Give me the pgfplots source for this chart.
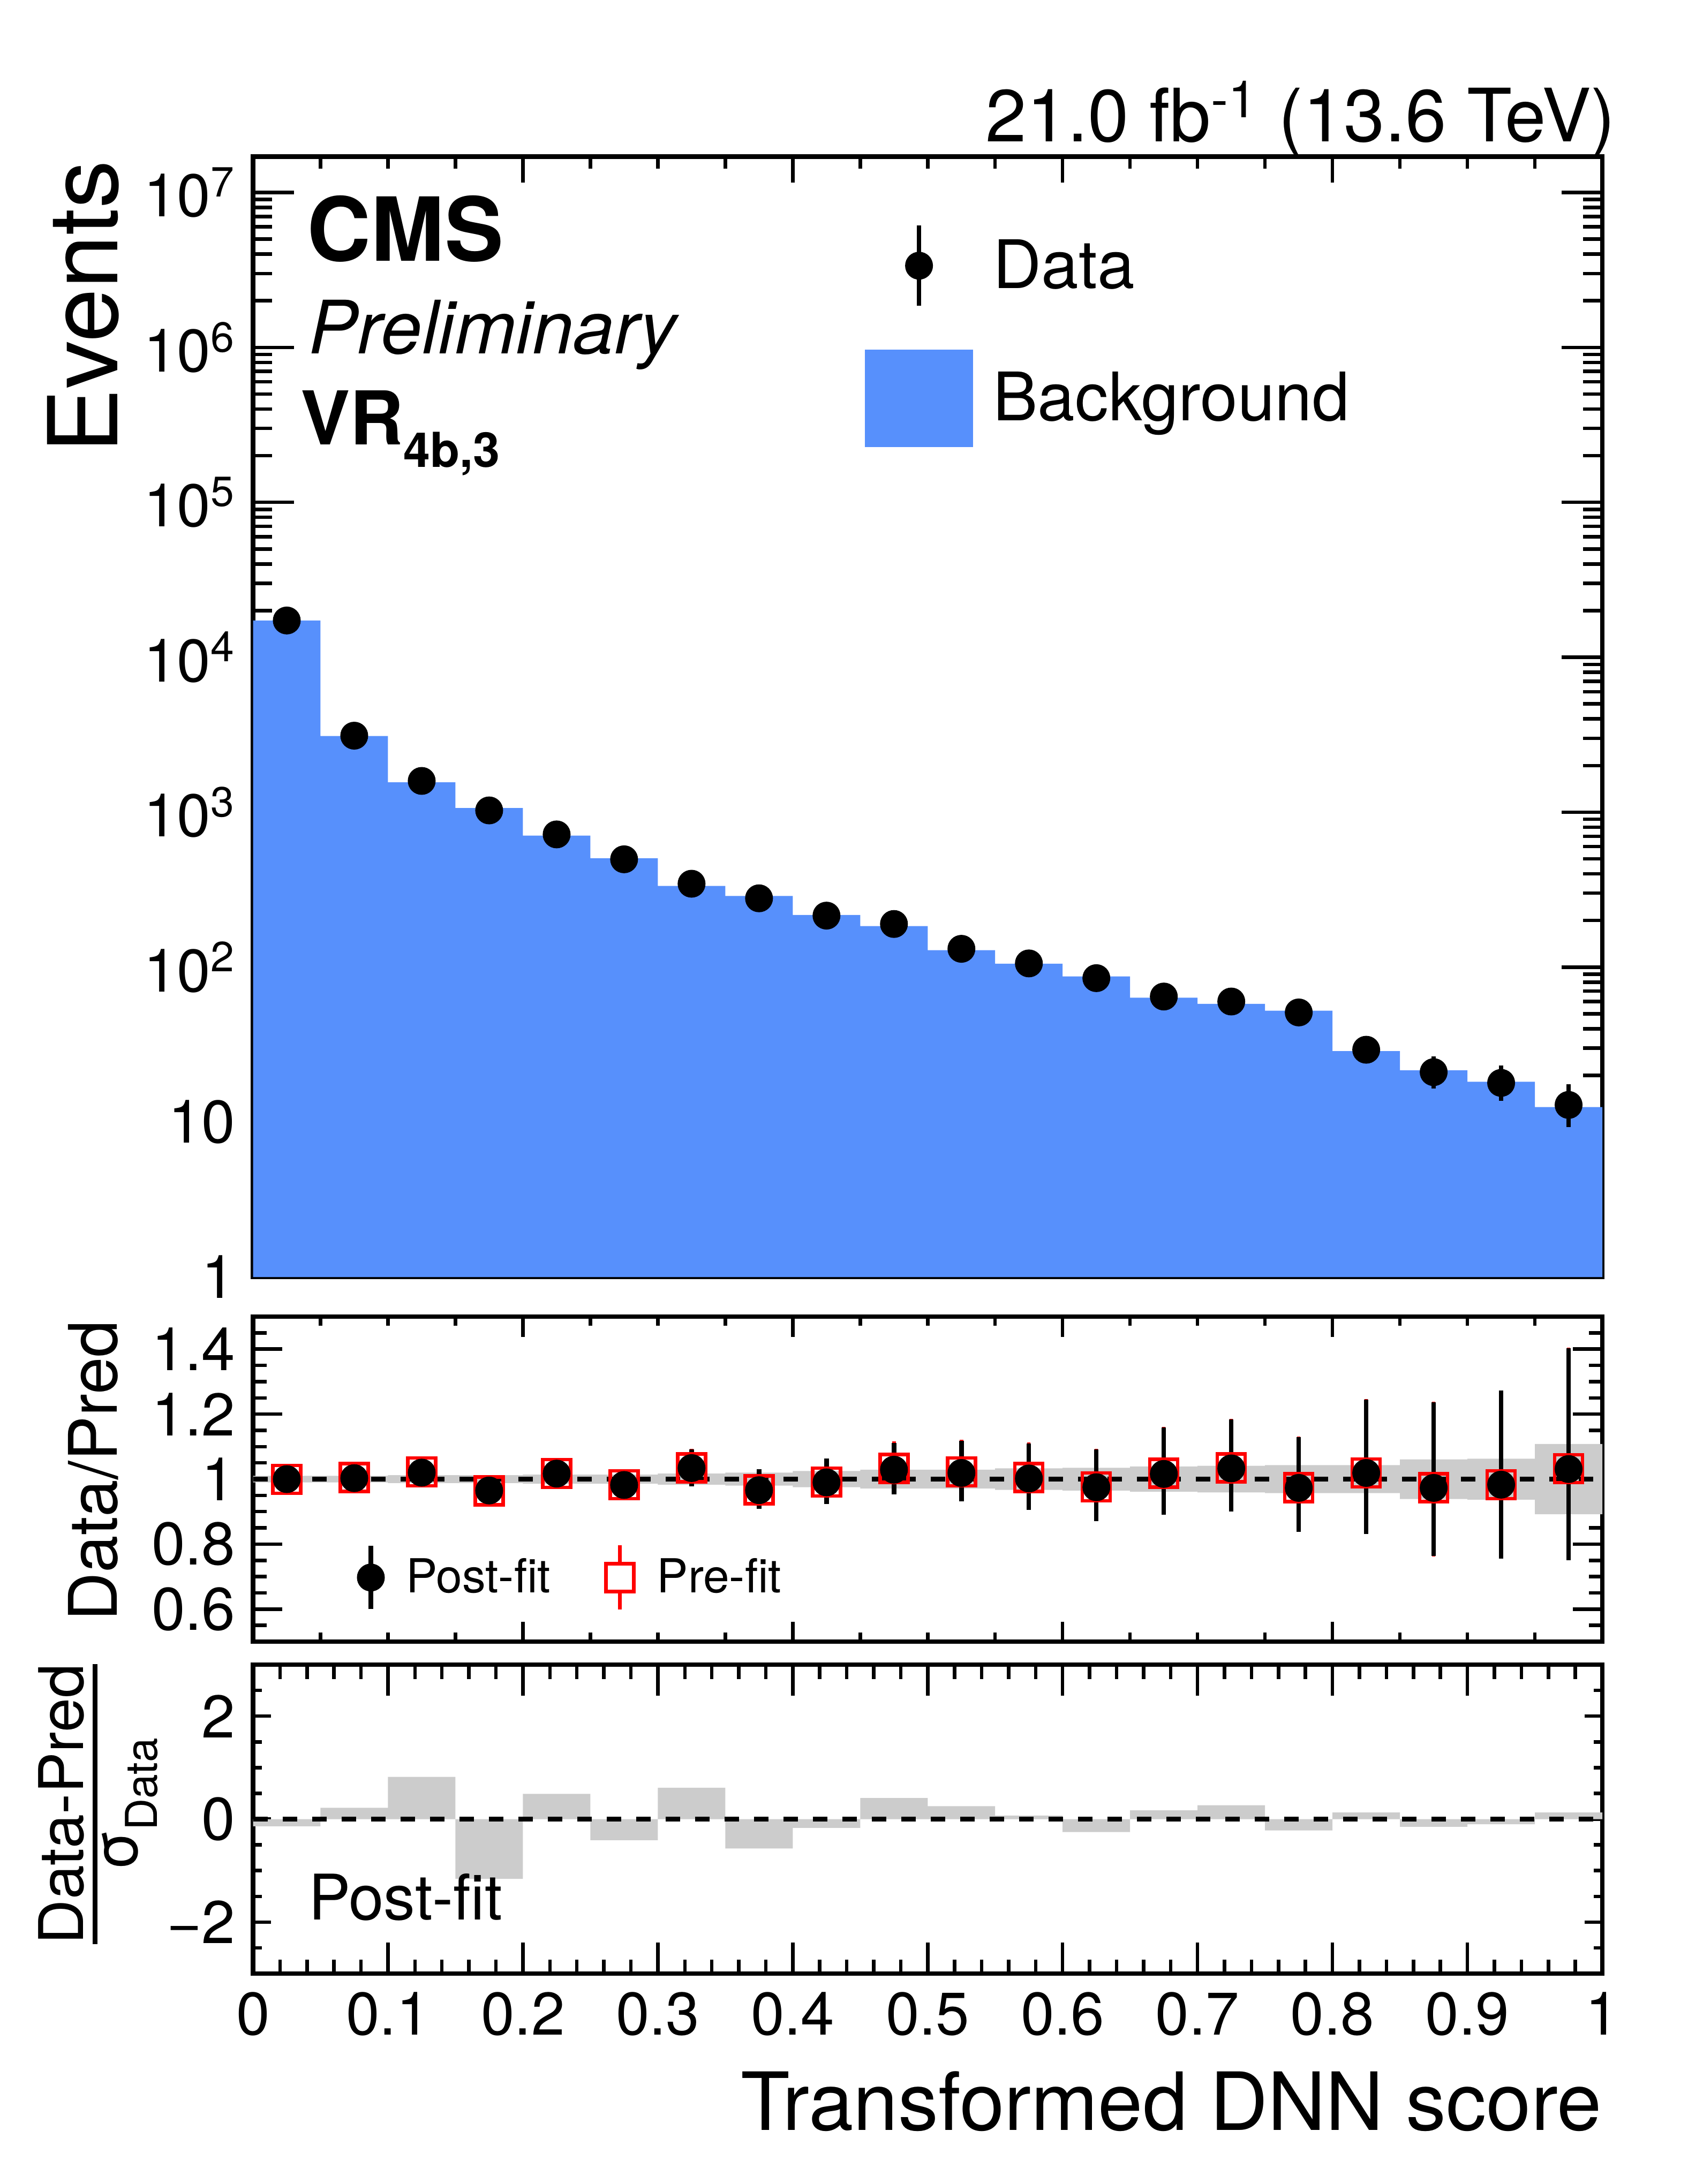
\documentclass[border=0pt]{standalone}
\usepackage{fontspec}
\setmainfont{TeX Gyre Heros}
\usepackage{amsmath}
\usepackage{pgfplots}
\pgfplotsset{compat=1.18}
\definecolor{cmsblue}{HTML}{5790FC}
\definecolor{bandgray}{HTML}{CCCCCC}
\newcommand{\fs}[2]{\fontsize{#1}{#2}\selectfont}
\newcommand\pullfrac{\vbox{\offinterlineskip\halign{\hfil##\hfil\cr
\fs{23}{28}Data-Pred\cr
\noalign{\kern3.15pt\hrule height1.7pt\kern1.75pt}
\fs{23}{28}σ\raisebox{-7.4pt}{\fs{16.4}{20}Data}\cr}}}
\pgfplotsset{
  cmsax/.style={
    scale only axis, width=503.9pt, xmin=0, xmax=1,
    anchor=north west,
    axis line style={line width=1.7pt},
    tick style={line width=1.3pt, black},
    tick align=inside,
    /pgf/number format/assume math mode=true,
    ticklabel style={font=\fs{22.5}{27}},
    yticklabel style={inner sep=0pt, xshift=-6.4pt},
    xticklabel style={inner sep=0pt, yshift=-6.8pt},
  }
}
\begin{document}
\begin{tikzpicture}
\useasboundingbox (0,0) rectangle (630.2pt,-815.8pt);
% ---------------- main panel ----------------
\begin{axis}[cmsax, ymode=log, at={(94.5pt,-58.5pt)}, height=418.5pt,
  ymin=1, ymax=1.704e7,
  xtick={0,0.2,0.4,0.6,0.8,1}, minor x tick num=3, xticklabels={},
  xtick style={/pgfplots/major tick length=9.8pt, /pgfplots/minor tick length=4.6pt},
  ytick style={/pgfplots/major tick length=15.3pt, /pgfplots/minor tick length=7.2pt},
  ytick={1,10,100,1000,10000,100000,1000000,10000000},
  yticklabels={1,10,10\textsuperscript{2},10\textsuperscript{3},10\textsuperscript{4},10\textsuperscript{5},10\textsuperscript{6},10\textsuperscript{7}},
  minor ytick={2,3,4,5,6,7,8,9,20,30,40,50,60,70,80,90,200,300,400,500,600,700,800,900,2000,3000,4000,5000,6000,7000,8000,9000,2e4,3e4,4e4,5e4,6e4,7e4,8e4,9e4,2e5,3e5,4e5,5e5,6e5,7e5,8e5,9e5,2e6,3e6,4e6,5e6,6e6,7e6,8e6,9e6},
  ylabel={Events},
  ylabel style={at={(axis description cs:-0.1004,0.997)}, anchor=base east, font=\fs{36}{43}, inner sep=0pt},
  legend cell align=left,
  legend style={at={(axis description cs:0.4535,0.9405)}, anchor=north west, draw=none, fill=none,
    inner sep=0pt, outer sep=0pt, font=\fs{25}{30}, row sep=15.5pt,
    nodes={inner sep=0pt},
    /tikz/every odd column/.append style={column sep=7.5pt}},
]
\addplot[forget plot, const plot mark left, fill=cmsblue, draw=none] coordinates {
 (0,1) (0,17290) (0.05,3106) (0.10,1559) (0.15,1064) (0.20,707) (0.25,505) (0.30,334)
 (0.35,288) (0.40,217) (0.45,184) (0.50,128.7) (0.55,105.3) (0.60,87.1) (0.65,63.5)
 (0.70,58) (0.75,52.4) (0.80,28.7) (0.85,21.6) (0.90,18.2) (0.95,12.5) (1,12.5) (1,1)};
\addplot[forget plot, black, only marks, mark=*, mark size=5pt, mark options={fill=black},
  error bars/.cd, y dir=both, y explicit, error mark=none, error bar style={line width=1.7pt}]
 coordinates {
 (0.025,17272) +- (0,131)
 (0.075,3118) +- (0,56)
 (0.125,1592) +- (0,40)
 (0.175,1027) +- (0,32)
 (0.225,719) +- (0,27)
 (0.275,496.6) +- (0,22.3)
 (0.325,345.4) +- (0,18.6)
 (0.375,278.1) +- (0,16.7)
 (0.425,215) +- (0,14.7)
 (0.475,189.9) +- (0,13.8)
 (0.525,131.3) +- (0,11.5)
 (0.575,105.7) +- (0,10.3)
 (0.625,84.9) += (0,10.2) -= (0,9.2)
 (0.675,64.6) += (0,9.1) -= (0,8.0)
 (0.725,60.0) += (0,8.8) -= (0,7.7)
 (0.775,51.0) += (0,8.2) -= (0,7.1)
 (0.825,29.3) += (0,6.5) -= (0,5.4)
 (0.875,21.0) += (0,5.6) -= (0,4.5)
 (0.925,17.9) += (0,5.3) -= (0,4.2)
 (0.975,12.9) += (0,4.7) -= (0,3.6)
 };
\addlegendimage{legend image code/.code={\draw[line width=1.7pt] (0pt,-15pt) -- (0pt,15pt); \fill (0pt,0pt) circle (5pt);}}
\addlegendentry{Data}
\addlegendimage{legend image code/.code={\fill[cmsblue] (-20pt,-18pt) rectangle (20pt,18pt);}}
\addlegendentry{Background}
\end{axis}
% ---------------- ratio panel ----------------
\begin{axis}[cmsax, at={(94.5pt,-491.8pt)}, height=121.4pt,
  ymin=0.5, ymax=1.5,
  xtick={0,0.2,0.4,0.6,0.8,1}, minor x tick num=3, xticklabels={},
  xtick style={/pgfplots/major tick length=7.5pt, /pgfplots/minor tick length=3.4pt},
  ytick style={/pgfplots/major tick length=11pt, /pgfplots/minor tick length=5pt},
  ytick={0.6,0.8,1,1.2,1.4}, yticklabels={0.6,0.8,1,1.2,1.4},
  minor ytick={0.55,0.65,0.7,0.75,0.85,0.9,0.95,1.05,1.1,1.15,1.25,1.3,1.35,1.45},
  ylabel={Data/Pred},
  ylabel style={at={(axis description cs:-0.101,0.990)}, anchor=base east, font=\fs{25}{30}, inner sep=0pt},
  legend columns=2,
  legend cell align=left,
  legend style={at={(axis description cs:0.077,0.3015)}, anchor=north west, draw=none, fill=none,
    inner sep=0pt, outer sep=0pt, font=\fs{17.5}{21},
    nodes={inner sep=0pt},
    /tikz/every odd column/.append style={column sep=8pt},
    /tikz/every even column/.append style={column sep=20pt}},
]
\addplot[forget plot, fill=bandgray, draw=none] coordinates {
 (0,1.010) (0.05,1.010) (0.05,1.010) (0.10,1.010) (0.10,1.012) (0.15,1.012) (0.15,1.012) (0.20,1.012)
 (0.20,1.014) (0.25,1.014) (0.25,1.014) (0.30,1.014) (0.30,1.017) (0.35,1.017) (0.35,1.020) (0.40,1.020)
 (0.40,1.025) (0.45,1.025) (0.45,1.029) (0.50,1.029) (0.50,1.029) (0.55,1.029) (0.55,1.033) (0.60,1.033)
 (0.60,1.035) (0.65,1.035) (0.65,1.039) (0.70,1.039) (0.70,1.041) (0.75,1.041) (0.75,1.043) (0.80,1.043)
 (0.80,1.043) (0.85,1.043) (0.85,1.061) (0.90,1.061) (0.90,1.063) (0.95,1.063) (0.95,1.108) (1,1.108)
 (1,0.892) (0.95,0.892) (0.95,0.937) (0.90,0.937) (0.90,0.939) (0.85,0.939) (0.85,0.957) (0.80,0.957)
 (0.80,0.957) (0.75,0.957) (0.75,0.959) (0.70,0.959) (0.70,0.961) (0.65,0.961) (0.65,0.965) (0.60,0.965)
 (0.60,0.967) (0.55,0.967) (0.55,0.971) (0.50,0.971) (0.50,0.971) (0.45,0.971) (0.45,0.975) (0.40,0.975)
 (0.40,0.980) (0.35,0.980) (0.35,0.983) (0.30,0.983) (0.30,0.986) (0.25,0.986) (0.25,0.986) (0.20,0.986)
 (0.20,0.988) (0.15,0.988) (0.15,0.988) (0.10,0.988) (0.10,0.990) (0.05,0.990) (0.05,0.990) (0,0.990)};
\addplot[forget plot, black, line width=1.8pt, dash pattern=on 5.5pt off 5.5pt] coordinates {(0,1) (1,1)};
\addplot[forget plot, red, only marks, mark=square, mark size=5.2pt, mark options={line width=1.3pt, fill=none},
  error bars/.cd, y dir=both, y explicit, error mark=none, error bar style={line width=1.3pt, red}]
 coordinates {
 (0.025,0.999) +- (0,0.008)
 (0.075,1.005) +- (0,0.018)
 (0.125,1.022) +- (0,0.025)
 (0.175,0.964) +- (0,0.030)
 (0.225,1.017) +- (0,0.037)
 (0.275,0.983) +- (0,0.045)
 (0.325,1.035) += (0,0.058) -= (0,0.057)
 (0.375,0.967) += (0,0.064) -= (0,0.057)
 (0.425,0.991) += (0,0.073) -= (0,0.067)
 (0.475,1.033) += (0,0.083) -= (0,0.076)
 (0.525,1.022) += (0,0.099) -= (0,0.087)
 (0.575,1.005) += (0,0.108) -= (0,0.097)
 (0.625,0.976) += (0,0.117) -= (0,0.104)
 (0.675,1.018) += (0,0.143) -= (0,0.126)
 (0.725,1.035) += (0,0.151) -= (0,0.132)
 (0.775,0.974) += (0,0.157) -= (0,0.137)
 (0.825,1.019) += (0,0.228) -= (0,0.188)
 (0.875,0.974) += (0,0.264) -= (0,0.212)
 (0.925,0.983) += (0,0.290) -= (0,0.228)
 (0.975,1.032) += (0,0.372) -= (0,0.281)
 };
\addplot[forget plot, black, only marks, mark=*, mark size=5pt, mark options={fill=black},
  error bars/.cd, y dir=both, y explicit, error mark=none, error bar style={line width=1.7pt}]
 coordinates {
 (0.025,1.000) +- (0,0.008)
 (0.075,1.003) +- (0,0.018)
 (0.125,1.020) +- (0,0.025)
 (0.175,0.965) +- (0,0.030)
 (0.225,1.017) +- (0,0.037)
 (0.275,0.982) +- (0,0.045)
 (0.325,1.034) += (0,0.058) -= (0,0.057)
 (0.375,0.966) += (0,0.064) -= (0,0.057)
 (0.425,0.990) += (0,0.073) -= (0,0.067)
 (0.475,1.029) += (0,0.083) -= (0,0.076)
 (0.525,1.019) += (0,0.099) -= (0,0.087)
 (0.575,1.002) += (0,0.108) -= (0,0.097)
 (0.625,0.975) += (0,0.117) -= (0,0.104)
 (0.675,1.016) += (0,0.143) -= (0,0.126)
 (0.725,1.033) += (0,0.151) -= (0,0.132)
 (0.775,0.973) += (0,0.157) -= (0,0.135)
 (0.825,1.019) += (0,0.226) -= (0,0.188)
 (0.875,0.973) += (0,0.264) -= (0,0.210)
 (0.925,0.983) += (0,0.290) -= (0,0.228)
 (0.975,1.031) += (0,0.372) -= (0,0.281)
 };
\addlegendimage{legend image code/.code={\draw[line width=1.7pt] (0pt,-11.8pt) -- (0pt,11.8pt); \fill (0pt,0pt) circle (5pt);}}
\addlegendentry{Post-fit}
\addlegendimage{legend image code/.code={\draw[red, line width=1.3pt] (0pt,-12pt) -- (0pt,-5.2pt) (0pt,5.2pt) -- (0pt,12pt); \draw[red, line width=1.3pt] (-5.2pt,-5.2pt) rectangle (5.2pt,5.2pt);}}
\addlegendentry{Pre-fit}
\end{axis}
% ---------------- pull panel ----------------
\begin{axis}[cmsax, at={(94.5pt,-621.8pt)}, height=115.4pt,
  ymin=-3, ymax=3,
  xtick={0,0.1,0.2,0.3,0.4,0.5,0.6,0.7,0.8,0.9,1}, minor x tick num=4,
  xticklabels={0,0.1,0.2,0.3,0.4,0.5,0.6,0.7,0.8,0.9,1},
  xtick style={/pgfplots/major tick length=11.6pt, /pgfplots/minor tick length=5.3pt},
  ytick style={/pgfplots/major tick length=6.7pt, /pgfplots/minor tick length=3.2pt},
  ytick={-2,0,2}, yticklabels={−2,0,2},
  minor ytick={-2.5,-1.5,-1,-0.5,0.5,1,1.5,2.5},
  ylabel={\pullfrac},
  ylabel style={at={(axis description cs:-0.1147,0.5485)}, anchor=center, inner sep=0pt},
]
\addplot[forget plot, ybar interval, fill=bandgray, draw=none] coordinates {
 (0,-0.14) (0.05,0.22) (0.10,0.82) (0.15,-1.16) (0.20,0.49) (0.25,-0.41) (0.30,0.61) (0.35,-0.57)
 (0.40,-0.17) (0.45,0.41) (0.50,0.25) (0.55,0.07) (0.60,-0.25) (0.65,0.17) (0.70,0.27) (0.75,-0.22)
 (0.80,0.13) (0.85,-0.15) (0.90,-0.10) (0.95,0.13) (1,0.13)};
\addplot[forget plot, black, line width=1.8pt, dash pattern=on 5.5pt off 5.5pt] coordinates {(0,0) (1,0)};
\end{axis}
% ---------------- texts ----------------
\node[anchor=base east, inner sep=0pt, font=\fs{27.5}{33}] at (603.5pt,-53pt) {21.0 fb\textsuperscript{-1} (13.6 TeV)};
\node[anchor=base west, inner sep=0pt, font=\fs{33}{40}\bfseries] at (114.5pt,-97.6pt) {CMS};
\node[anchor=base west, inner sep=0pt, font=\fs{27.5}{33}\itshape] at (115pt,-132pt) {Preliminary};
\node[anchor=base west, inner sep=0pt, font=\fs{27.7}{33}\bfseries] at (112pt,-166pt) {VR\raisebox{-8.5pt}{\fs{18}{20}\bfseries 4b,3}};
\node[anchor=base west, inner sep=0pt, font=\fs{23.5}{28}] at (115pt,-717pt) {Post-fit};
\node[anchor=base east, inner sep=0pt, font=\fs{30}{36}] at (598.4pt,-795.6pt) {Transformed DNN score};
\end{tikzpicture}
\end{document}
